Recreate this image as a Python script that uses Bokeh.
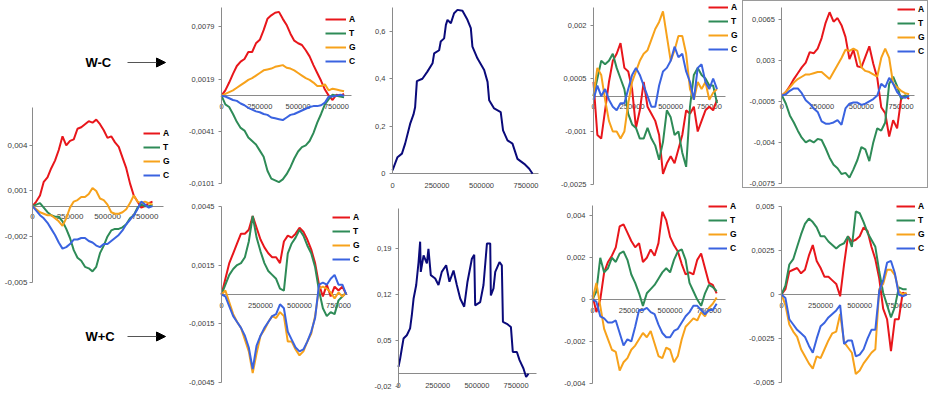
from bokeh.plotting import figure
from bokeh.models import Range1d, LinearAxis, FixedTicker, Legend, LegendItem, Label, Arrow, NormalHead
from bokeh.core.properties import value
from bokeh.layouts import row, column
from bokeh.embed import file_html
from bokeh.resources import INLINE

# ---------------- data ----------------
POS = [0, 25000, 50000, 75000, 100000, 125000, 150000, 175000, 200000, 225000, 250000,
       275000, 300000, 325000, 350000, 375000, 400000, 425000, 450000, 475000, 500000,
       525000, 550000, 575000, 600000, 625000, 650000, 675000, 700000, 725000, 750000,
       775000, 800000]

X_TICKS = [0, 250000, 500000, 750000]
X_LABELS = ["0", "250000", "500000", "750000"]
SERIES = ["A", "T", "G", "C"]

# left panel
L_A = [0, 0.0003, 0.0007, 0.0016, 0.0019, 0.0025, 0.0030, 0.0037, 0.0046, 0.0040, 0.0043, 0.0044, 0.0051, 0.0052, 0.0054, 0.0056, 0.0055, 0.0057, 0.0054, 0.0050, 0.0045, 0.0046, 0.0042, 0.0039, 0.0032, 0.0025, 0.0015, 0.0007, 0.0003, -0.0001, 0.0000, 0.0002, 0.0003]
L_T = [0, 0.0001, 0.0002, -0.0001, -0.0004, -0.0006, -0.0007, -0.0007, -0.0010, -0.0015, -0.0021, -0.0029, -0.0034, -0.0036, -0.0040, -0.0041, -0.0043, -0.0040, -0.0031, -0.0026, -0.0020, -0.0016, -0.0015, -0.0015, -0.0014, -0.0012, -0.0008, -0.0006, -0.0001, 0.0001, 0.0000, 0.0000, 0.0001]
L_G = [0, -0.0002, -0.0004, -0.0005, -0.0006, -0.0006, -0.0008, -0.0010, -0.0013, -0.0008, -0.0001, 0.0003, 0.0004, 0.0006, 0.0006, 0.0008, 0.0012, 0.0010, 0.0005, 0.0004, 0.0001, -0.0004, -0.0005, -0.0005, -0.0004, -0.0002, 0.0002, 0.0007, 0.0003, 0.0002, 0.0003, 0.0002, 0.0001]
L_C = [0, -0.0003, -0.0006, -0.0008, -0.0011, -0.0015, -0.0019, -0.0024, -0.0028, -0.0027, -0.0025, -0.0022, -0.0022, -0.0021, -0.0021, -0.0023, -0.0024, -0.0026, -0.0027, -0.0025, -0.0025, -0.0023, -0.0021, -0.0019, -0.0016, -0.0012, -0.0009, -0.0006, -0.0002, 0.0003, 0.0001, -0.0001, 0.0000]
L_YT = [-0.005, -0.002, 0.001, 0.004]
L_YL = ["-0,005", "-0,002", "0,001", "0,004"]

# W-C row, panel 1
T1_A = [0, 0.0006, 0.0015, 0.0025, 0.0034, 0.0039, 0.0042, 0.0050, 0.0050, 0.0060, 0.0064, 0.0075, 0.0088, 0.0092, 0.0095, 0.0096, 0.0088, 0.0081, 0.0071, 0.0063, 0.0060, 0.0058, 0.0052, 0.0045, 0.0035, 0.0026, 0.0017, 0.0007, 0.0000, -0.0005, 0.0001, 0.0000, 0.0002]
T1_T = [0, -0.0010, -0.0013, -0.0021, -0.0030, -0.0037, -0.0040, -0.0048, -0.0052, -0.0056, -0.0063, -0.0070, -0.0086, -0.0095, -0.0097, -0.0099, -0.0096, -0.0090, -0.0082, -0.0072, -0.0064, -0.0059, -0.0057, -0.0052, -0.0043, -0.0031, -0.0021, -0.0010, -0.0004, 0.0001, 0.0000, -0.0001, -0.0002]
T1_G = [0, 0.0002, 0.0004, 0.0006, 0.0009, 0.0012, 0.0015, 0.0018, 0.0020, 0.0023, 0.0026, 0.0029, 0.0030, 0.0031, 0.0033, 0.0034, 0.0035, 0.0032, 0.0031, 0.0029, 0.0026, 0.0023, 0.0020, 0.0018, 0.0015, 0.0011, 0.0011, 0.0013, 0.0006, 0.0008, 0.0007, 0.0006, 0.0005]
T1_C = [0, -0.0001, -0.0003, -0.0005, -0.0006, -0.0009, -0.0011, -0.0014, -0.0016, -0.0018, -0.0019, -0.0021, -0.0022, -0.0025, -0.0026, -0.0027, -0.0028, -0.0025, -0.0022, -0.0021, -0.0019, -0.0017, -0.0015, -0.0013, -0.0012, -0.0012, -0.0011, -0.0008, -0.0001, -0.0001, 0.0000, 0.0001, 0.0000]
T1_YT = [-0.0101, -0.0041, 0.0019, 0.0079]
T1_YL = ["-0,0101", "-0,0041", "0,0019", "0,0079"]

# W-C row, panel 2 (single series)
T2_X = [0, 28000, 53000, 71000, 99000, 118000, 127000, 137000, 168000, 196000, 225000, 234000, 262000, 271000, 290000, 300000, 309000, 328000, 346000, 365000, 393000, 421000, 440000, 449000, 477000, 515000, 534000, 543000, 571000, 608000, 621000, 646000, 674000, 702000, 740000, 768000, 787000]
T2_Y = [0.014, 0.07, 0.085, 0.127, 0.21, 0.25, 0.28, 0.39, 0.40, 0.43, 0.465, 0.507, 0.52, 0.557, 0.57, 0.627, 0.648, 0.634, 0.676, 0.69, 0.686, 0.648, 0.613, 0.535, 0.486, 0.437, 0.387, 0.31, 0.275, 0.26, 0.183, 0.141, 0.127, 0.063, 0.042, 0.021, 0.0]
T2_YT = [0, 0.2, 0.4, 0.6]
T2_YL = ["0", "0,2", "0,4", "0,6"]

# W-C row, panel 3
T3_A = [0.0004, -0.0011, -0.0012, -0.0004, 0.0004, 0.0010, 0.0012, 0.0015, 0.0008, 0.0007, 0.0002, -0.0009, -0.0004, 0.0004, -0.0003, -0.0005, -0.0007, -0.0011, -0.0022, -0.0019, -0.0017, -0.0019, -0.0015, -0.0011, -0.0004, -0.0005, -0.0003, -0.0010, -0.0007, -0.0004, -0.0003, -0.0004, -0.0001]
T3_T = [0, 0.0005, 0.0010, 0.0009, 0.0010, 0.0012, 0.0008, 0.0005, 0.0002, -0.0005, -0.0008, -0.0009, -0.0012, -0.0012, -0.0009, -0.0012, -0.0014, -0.0018, -0.0013, -0.0004, -0.0006, -0.0011, -0.0010, -0.0016, -0.0020, -0.0003, 0.0006, 0.0008, 0.0006, 0.0005, 0.0003, 0.0003, -0.0002]
T3_G = [0, 0.0008, 0.0006, -0.0001, -0.0007, -0.0010, -0.0010, -0.0012, -0.0010, -0.0002, 0.0004, 0.0007, 0.0010, 0.0012, 0.0013, 0.0016, 0.0019, 0.0021, 0.0024, 0.0017, 0.0010, 0.0013, 0.0017, 0.0017, 0.0012, 0.0002, -0.0001, 0.0004, 0.0002, 0.0004, -0.0001, 0.0001, 0.0002]
T3_C = [-0.0001, 0.0003, 0.0000, 0.0002, -0.0001, -0.0003, -0.0004, -0.0002, -0.0002, 0.0002, 0.0006, 0.0008, 0.0006, 0.0003, 0.0000, -0.0003, -0.0003, 0.0003, 0.0007, 0.0008, 0.0010, 0.0014, 0.0011, 0.0012, 0.0007, 0.0004, -0.0001, 0.0008, 0.0009, 0.0004, 0.0002, 0.0005, 0.0002]
T3_YT = [-0.0025, -0.001, 0.0005, 0.002]
T3_YL = ["-0,0025", "-0,001", "0,0005", "0,002"]

# W-C row, panel 4
T4_A = [0, 0.0003, 0.0008, 0.0014, 0.0019, 0.0024, 0.0028, 0.0037, 0.0036, 0.0040, 0.0049, 0.0062, 0.0071, 0.0063, 0.0066, 0.0060, 0.0050, 0.0031, 0.0039, 0.0025, 0.0024, 0.0033, 0.0042, 0.0027, 0.0015, -0.0010, -0.0015, -0.0035, -0.0021, -0.0028, -0.0003, 0.0000, -0.0003]
T4_T = [0, -0.0007, -0.0017, -0.0023, -0.0030, -0.0036, -0.0040, -0.0038, -0.0040, -0.0037, -0.0038, -0.0045, -0.0053, -0.0059, -0.0062, -0.0067, -0.0066, -0.0070, -0.0063, -0.0055, -0.0044, -0.0046, -0.0056, -0.0040, -0.0028, -0.0030, -0.0023, 0.0010, 0.0016, 0.0008, -0.0003, 0.0000, -0.0001]
T4_G = [0, 0.0003, 0.0007, 0.0011, 0.0014, 0.0016, 0.0018, 0.0018, 0.0019, 0.0020, 0.0020, 0.0017, 0.0014, 0.0020, 0.0026, 0.0032, 0.0039, 0.0038, 0.0040, 0.0038, 0.0024, 0.0021, 0.0020, 0.0018, 0.0016, 0.0032, 0.0040, 0.0032, 0.0010, 0.0007, 0.0004, 0.0002, 0.0001]
T4_C = [0, 0.0001, 0.0004, 0.0006, 0.0006, 0.0002, -0.0004, -0.0007, -0.0011, -0.0014, -0.0022, -0.0024, -0.0024, -0.0023, -0.0021, -0.0025, -0.0011, -0.0007, -0.0006, -0.0006, -0.0008, -0.0007, -0.0005, -0.0003, 0.0000, 0.0010, 0.0007, 0.0015, 0.0010, 0.0003, -0.0001, -0.0002, 0.0000]
T4_YT = [-0.0075, -0.004, -0.0005, 0.003, 0.0065]
T4_YL = ["-0,0075", "-0,004", "-0,0005", "0,003", "0,0065"]

# W+C row, panel 1
B1_A = [0, 0.0008, 0.0016, 0.0021, 0.0026, 0.0031, 0.0031, 0.0033, 0.0040, 0.0034, 0.0028, 0.0024, 0.0021, 0.0019, 0.0019, 0.0016, 0.0027, 0.0030, 0.0029, 0.0031, 0.0034, 0.0032, 0.0028, 0.0023, 0.0016, 0.0005, -0.0001, 0.0005, -0.0001, 0.0004, 0.0002, 0.0004, 0.0000]
B1_T = [0, 0.0005, 0.0010, 0.0013, 0.0015, 0.0016, 0.0019, 0.0027, 0.0040, 0.0029, 0.0022, 0.0016, 0.0012, 0.0010, 0.0008, 0.0003, 0.0002, 0.0021, 0.0026, 0.0029, 0.0033, 0.0030, 0.0025, 0.0021, 0.0014, 0.0002, -0.0007, -0.0011, -0.0009, -0.0010, -0.0003, -0.0001, 0.0001]
B1_G = [0, 0.0002, -0.0004, -0.0010, -0.0014, -0.0017, -0.0023, -0.0029, -0.0040, -0.0030, -0.0021, -0.0018, -0.0014, -0.0011, -0.0012, -0.0009, -0.0011, -0.0024, -0.0024, -0.0028, -0.0031, -0.0029, -0.0024, -0.0020, -0.0011, 0.0003, 0.0004, 0.0003, 0.0001, -0.0002, 0.0001, -0.0001, 0.0001]
B1_C = [0, -0.0001, -0.0006, -0.0011, -0.0014, -0.0017, -0.0021, -0.0027, -0.0038, -0.0026, -0.0021, -0.0017, -0.0014, -0.0011, -0.0010, -0.0005, -0.0007, -0.0019, -0.0023, -0.0027, -0.0029, -0.0028, -0.0024, -0.0019, -0.0012, 0.0005, 0.0006, 0.0005, 0.0008, 0.0010, 0.0005, 0.0005, 0.0000]
B1_YT = [-0.0045, -0.0015, 0.0015, 0.0045]
B1_YL = ["-0,0045", "-0,0015", "0,0015", "0,0045"]

# W+C row, panel 2 (single series)
B2_X = [0, 10600, 21000, 32000, 53000, 74000, 85000, 96000, 113000, 128000, 138000, 142000, 160000, 181000, 191000, 206000, 234000, 255000, 276000, 304000, 325000, 351000, 372000, 394000, 419000, 440000, 468000, 483000, 489000, 521000, 542000, 564000, 585000, 589000, 606000, 617000, 644000, 659000, 666000, 691000, 717000, 729000, 755000, 772000, 797000, 814000, 829000]
B2_Y = [0.0094, 0.022, 0.037, 0.0525, 0.0576, 0.068, 0.088, 0.113, 0.134, 0.169, 0.20, 0.154, 0.179, 0.167, 0.189, 0.149, 0.144, 0.134, 0.154, 0.164, 0.139, 0.156, 0.134, 0.113, 0.101, 0.139, 0.174, 0.18, 0.103, 0.108, 0.134, 0.197, 0.197, 0.118, 0.129, 0.154, 0.169, 0.164, 0.078, 0.075, 0.07, 0.032, 0.032, 0.0196, 0.007, -0.006, -0.001]
B2_YT = [-0.02, 0.05, 0.12, 0.19]
B2_YL = ["-0,02", "0,05", "0,12", "0,19"]

# W+C row, panel 3
B3_A = [0.0002, -0.0006, 0.0000, 0.0013, 0.0018, 0.0021, 0.0025, 0.0035, 0.0036, 0.0032, 0.0028, 0.0025, 0.0027, 0.0018, 0.0020, 0.0024, 0.0021, 0.0027, 0.0042, 0.0038, 0.0030, 0.0026, 0.0023, 0.0017, 0.0012, 0.0013, 0.0012, 0.0019, 0.0022, 0.0015, 0.0008, 0.0007, 0.0003]
B3_T = [0, 0.0004, 0.0020, 0.0013, 0.0015, 0.0020, 0.0018, 0.0022, 0.0023, 0.0019, 0.0012, 0.0008, 0.0003, -0.0003, 0.0003, 0.0005, 0.0007, 0.0010, 0.0013, 0.0015, 0.0013, 0.0019, 0.0023, 0.0024, 0.0019, 0.0008, 0.0004, 0.0000, -0.0003, 0.0003, 0.0007, 0.0006, 0.0004]
B3_G = [0, 0.0008, -0.0003, -0.0014, -0.0019, -0.0024, -0.0025, -0.0034, -0.0030, -0.0028, -0.0024, -0.0022, -0.0019, -0.0016, -0.0018, -0.0015, -0.0021, -0.0027, -0.0028, -0.0023, -0.0024, -0.0030, -0.0027, -0.0019, -0.0013, -0.0011, -0.0009, -0.0010, -0.0006, -0.0008, -0.0004, -0.0002, 0.0001]
B3_C = [0, -0.0001, -0.0008, -0.0009, -0.0011, -0.0011, -0.0010, -0.0016, -0.0022, -0.0019, -0.0020, -0.0013, -0.0005, -0.0005, -0.0004, -0.0006, -0.0007, -0.0012, -0.0016, -0.0018, -0.0018, -0.0015, -0.0014, -0.0011, -0.0008, -0.0006, -0.0003, -0.0003, -0.0005, -0.0007, -0.0005, -0.0005, -0.0002]
B3_YT = [-0.004, -0.002, 0, 0.002, 0.004]
B3_YL = ["-0,004", "-0,002", "0", "0,002", "0,004"]

# W+C row, panel 4
B4_A = [0, 0.0003, 0.0013, 0.0014, 0.0015, 0.0012, 0.0014, 0.0022, 0.0028, 0.0019, 0.0015, 0.0010, 0.0010, 0.0008, 0.0006, -0.0001, 0.0017, 0.0033, 0.0030, 0.0031, 0.0033, 0.0038, 0.0036, 0.0027, 0.0020, 0.0009, -0.0008, -0.0014, -0.0032, -0.0014, -0.0014, 0.0001, 0.0000]
B4_T = [0, 0.0005, 0.0017, 0.0020, 0.0027, 0.0034, 0.0040, 0.0043, 0.0041, 0.0038, 0.0033, 0.0033, 0.0030, 0.0028, 0.0026, 0.0028, 0.0029, 0.0033, 0.0027, 0.0047, 0.0046, 0.0041, 0.0035, 0.0031, 0.0027, 0.0013, 0.0001, -0.0006, -0.0013, -0.0007, 0.0004, 0.0003, 0.0003]
B4_G = [0, -0.0006, -0.0017, -0.0021, -0.0024, -0.0031, -0.0035, -0.0039, -0.0042, -0.0035, -0.0036, -0.0031, -0.0026, -0.0022, -0.0021, -0.0011, -0.0027, -0.0030, -0.0033, -0.0045, -0.0043, -0.0039, -0.0036, -0.0033, -0.0031, 0.0003, 0.0006, 0.0014, 0.0014, 0.0011, 0.0002, 0.0000, 0.0001]
B4_C = [0, -0.0002, -0.0014, -0.0017, -0.0020, -0.0022, -0.0024, -0.0029, -0.0033, -0.0025, -0.0018, -0.0016, -0.0013, -0.0011, -0.0009, -0.0006, -0.0028, -0.0026, -0.0026, -0.0035, -0.0034, -0.0031, -0.0025, -0.0020, -0.0020, 0.0002, 0.0008, 0.0018, 0.0019, 0.0012, 0.0000, -0.0001, 0.0000]
B4_YT = [-0.005, -0.0025, 0, 0.0025, 0.005]
B4_YL = ["-0,005", "-0,0025", "0", "0,0025", "0,005"]

# ---------------- styling ----------------
FONT = "Liberation Sans"
COLORS = {"A": "#E8161B", "T": "#2E8B57", "G": "#F7A21B", "C": "#3A63E0"}
NAVY = "#0A0A7A"
AXIS_COLOR = "#8a8a8a"
TEXT_COLOR = "#404040"


def make_panel(w, h, ax_x, ax_top, ax_bot, ymin, ymax, px250k, xmax, yticks, ylabels,
               fs="7.5px", y_standoff=4, x_standoff=8, fw=None, fh=None):
    # whole canvas is the frame; axes are pinned at x=0 and y=0
    fw = fw or w
    fh = fh or h
    ky = (ax_bot - ax_top) / (ymax - ymin)
    y0 = ymin - (fh - ax_bot) / ky
    y1 = ymax + ax_top / ky
    kx = px250k / 250000.0
    x0 = -ax_x / kx
    x1 = (fw - ax_x) / kx
    p = figure(width=w, height=h, x_range=Range1d(x0, x1), y_range=Range1d(y0, y1),
               output_backend="svg", toolbar_location=None, x_axis_location=None,
               y_axis_location=None, min_border=0)
    p.grid.visible = False
    p.outline_line_color = None
    p.background_fill_color = "white"
    p.border_fill_color = "white"
    ya = LinearAxis(fixed_location=0, bounds=(ymin, ymax), ticker=FixedTicker(ticks=yticks),
                    major_label_overrides=dict(zip(yticks, ylabels)))
    ya.minor_tick_line_color = None
    ya.major_tick_out = 3
    ya.major_tick_in = 0
    ya.major_label_standoff = y_standoff
    ya.axis_line_color = AXIS_COLOR
    ya.major_tick_line_color = AXIS_COLOR
    ya.major_label_text_font = FONT
    ya.major_label_text_font_size = fs
    ya.major_label_text_color = TEXT_COLOR
    p.add_layout(ya, "left")
    xa = LinearAxis(fixed_location=0, bounds=(0, xmax), ticker=FixedTicker(ticks=X_TICKS),
                    major_label_overrides=dict(zip(X_TICKS, X_LABELS)))
    xa.minor_tick_line_color = None
    xa.major_tick_out = 0
    xa.major_tick_in = 0
    xa.major_label_standoff = x_standoff
    xa.axis_line_color = AXIS_COLOR
    xa.major_label_text_font = FONT
    xa.major_label_text_font_size = fs
    xa.major_label_text_color = TEXT_COLOR
    xa.level = "underlay"
    p.add_layout(xa, "below")
    return p


def add_series(p, h, ys, line_x, row_a, gw=19):
    items = []
    for name, y in zip(SERIES, ys):
        r = p.line(POS, y, line_color=COLORS[name], line_width=2)
        items.append(LegendItem(label=value(name), renderers=[r]))
    leg_h = 4 * 10 + 3 * 4
    vy = h - (row_a - 5 + leg_h)
    leg = Legend(items=items, location=(line_x, vy), glyph_width=gw, glyph_height=10,
                 label_height=10, spacing=4, padding=0, margin=0, label_standoff=3,
                 label_text_font=FONT, label_text_font_size="8.5px",
                 label_text_font_style="bold", label_text_color="black",
                 background_fill_alpha=0, border_line_alpha=0)
    p.add_layout(leg)


def label_fig(w, h, text, tx, ty, ax0, ax1):
    p = figure(width=w, height=h, x_range=Range1d(0, w), y_range=Range1d(h, 0),
               output_backend="svg", toolbar_location=None, x_axis_location=None,
               y_axis_location=None, min_border=0)
    p.grid.visible = False
    p.outline_line_color = None
    p.add_layout(Label(x=tx, y=ty, text=text, text_font=FONT, text_font_size="13px",
                       text_font_style="bold", text_baseline="middle", text_color="black"))
    p.add_layout(Arrow(end=NormalHead(size=9, fill_color="black", line_color="black"),
                       x_start=ax0, y_start=ty, x_end=ax1, y_end=ty,
                       line_color="#555555", line_width=1))
    return p


# column 0 (x 0..188)
fig_wc = label_fig(188, 100, "W-C", 85, 62, 127, 165)
fig_L = make_panel(188, 190, 32, 7, 181.5, -0.005, 0.0065, 37.5, 873000, L_YT, L_YL,
                   fs="8px", y_standoff=2, x_standoff=8)
add_series(fig_L, 190, [L_A, L_T, L_G, L_C], 143, 33, gw=17)
fig_wpc = label_fig(188, 104, "W+C", 85, 46, 127, 165)

# column 1 (x 188..365)
fig_1T = make_panel(177, 195, 33, 7, 183.3, -0.0101, 0.0101, 38.3, 850000, T1_YT, T1_YL)
add_series(fig_1T, 195, [T1_A, T1_T, T1_G, T1_C], 137, 19, gw=21)
fig_1B = make_panel(177, 199, 33, 10.7, 187.3, -0.0045, 0.0045, 39.0, 810000, B1_YT, B1_YL)
add_series(fig_1B, 199, [B1_A, B1_T, B1_G, B1_C], 144, 22, gw=18)

# column 2 (x 365..557)
fig_2T = make_panel(192, 195, 27, 7, 173.3, 0, 0.7, 44.5, 822000, T2_YT, T2_YL, x_standoff=9)
fig_2T.line(T2_X, T2_Y, line_color=NAVY, line_width=2)
fig_2B = make_panel(192, 199, 33, 13.3, 190.7, -0.02, 0.25, 39.2, 878000, B2_YT, B2_YL,
                    x_standoff=10)
fig_2B.line(B2_X, B2_Y, line_color=NAVY, line_width=2)

# column 3 (x 557..742)
fig_3T = make_panel(185, 195, 36, 7.3, 184, -0.0025, 0.0025, 38.6, 855000, T3_YT, T3_YL)
add_series(fig_3T, 195, [T3_A, T3_T, T3_G, T3_C], 151, 7, gw=20)
fig_3B = make_panel(185, 199, 35, 10, 187.7, -0.004, 0.0045, 38.8, 859000, B3_YT, B3_YL)
add_series(fig_3B, 199, [B3_A, B3_T, B3_G, B3_C], 151, 11, gw=19)

# column 4 (x 742..928); top chart has a frame box (1px border)
fig_4T = make_panel(186, 188, 38, 6, 180, -0.0075, 0.0075, 39.3, 833000, T4_YT, T4_YL,
                    fw=184, fh=186)
add_series(fig_4T, 186, [T4_A, T4_T, T4_G, T4_C], 154, 6, gw=18)
fig_4T.styles = {"border": "1px solid #9a9a9a"}
fig_4B = make_panel(186, 206, 39, 17.7, 194.3, -0.005, 0.005, 39.1, 827000, B4_YT, B4_YL)
add_series(fig_4B, 206, [B4_A, B4_T, B4_G, B4_C], 154, 18, gw=19)

layout = row(
    column(fig_wc, fig_L, fig_wpc),
    column(fig_1T, fig_1B),
    column(fig_2T, fig_2B),
    column(fig_3T, fig_3B),
    column(fig_4T, fig_4B),
)

open("out.html", "w").write(file_html(layout, INLINE))
